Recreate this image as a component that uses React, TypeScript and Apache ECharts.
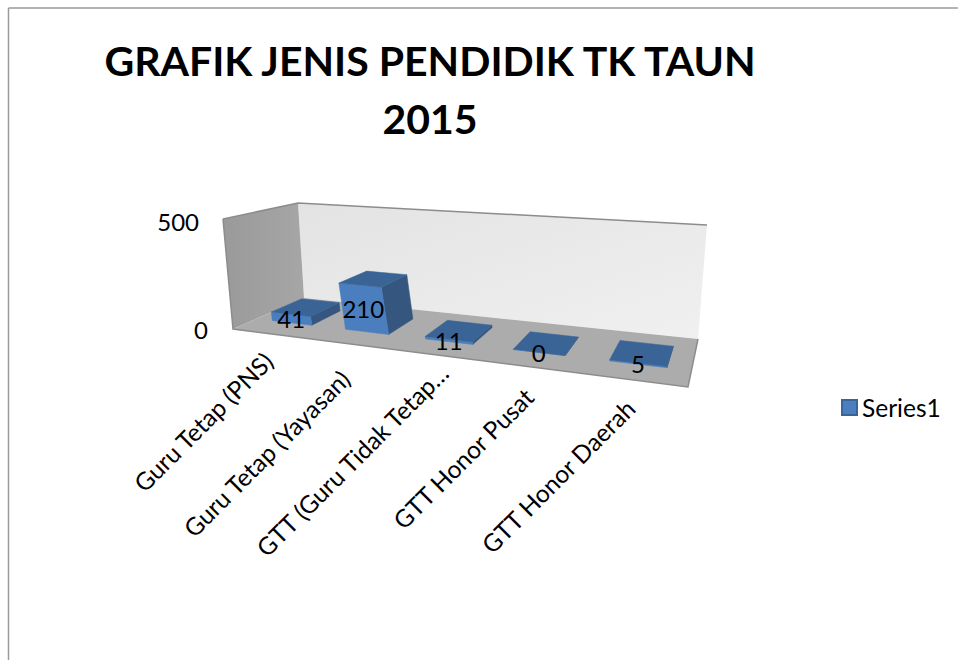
import React, { useEffect, useRef } from "react";
import * as echarts from "echarts";

const categories = ["Guru Tetap (PNS)", "Guru Tetap (Yayasan)", "GTT (Guru Tidak Tetap…", "GTT Honor Pusat", "GTT Honor Daerah"];
const seriesName = "Series1";
const values = [41, 210, 11, 0, 5];
const titleText = "GRAFIK JENIS PENDIDIK TK TAUN\n2015";
const yMax = 500;

type P = [number, number];
const FONT = "Lato";

// Corners of the 3D box as seen on the page: floor and top plane
const floorQuad: P[] = [[233, 329], [688, 387], [698, 339], [304, 298]];
const topQuad: P[] = [[223, 219], [699, 255], [707, 225], [298, 203]];
// Small per-label shift of the slanted axis labels
const labelNudge: P[] = [[-1, 23], [-2, 31], [11, 14], [2, 26], [-1, 24]];

function homography(q: P[]) {
  const [[x0, y0], [x1, y1], [x2, y2], [x3, y3]] = q;
  const sx = x0 - x1 + x2 - x3, sy = y0 - y1 + y2 - y3;
  const dx1 = x1 - x2, dx2 = x3 - x2, dy1 = y1 - y2, dy2 = y3 - y2;
  const den = dx1 * dy2 - dx2 * dy1;
  const g = (sx * dy2 - dx2 * sy) / den, h = (dx1 * sy - sx * dy1) / den;
  const a = x1 - x0 + g * x1, b = x3 - x0 + h * x3, d = y1 - y0 + g * y1, e = y3 - y0 + h * y3;
  return (u: number, v: number): P => {
    const w = g * u + h * v + 1;
    return [(a * u + b * v + x0) / w, (d * u + e * v + y0) / w];
  };
}
const floorAt = homography(floorQuad);
const topAt = homography(topQuad);
// u along the categories, d into the depth, t up the value axis (all 0..1)
function project(u: number, d: number, t: number): P {
  const f = floorAt(u, d), c = topAt(u, d);
  return [f[0] + (c[0] - f[0]) * t, f[1] + (c[1] - f[1]) * t];
}

const BAR_SHARE = 0.55;
const D0 = 0.3, D1 = 0.74;

function renderBar(params: any, api: any) {
  const cs = params.coordSys;
  const idx = api.value(0), val = api.value(1);
  const pt = api.coord([idx, val]);
  const base = api.coord([idx, 0]);
  const uc = (pt[0] - cs.x) / cs.width;
  const t = (base[1] - pt[1]) / cs.height;
  const half = (api.size([1, 0])[0] * BAR_SHARE) / 2 / cs.width;
  const ul = uc - half, ur = uc + half;
  const poly = (points: P[], fill: any) => ({
    type: "polygon", silent: true,
    shape: { points },
    style: { fill, stroke: fill, lineWidth: 0.5 },
  });
  const frontMid = project(uc, D0, t / 2);
  const lblFoot = project(uc, 0, 0);
  return {
    type: "group",
    children: [
      poly([project(ur, D0, 0), project(ur, D1, 0), project(ur, D1, t), project(ur, D0, t)], "#35577f"),
      poly([project(ul, D0, 0), project(ur, D0, 0), project(ur, D0, t), project(ul, D0, t)], "#4a7ebf"),
      poly([project(ul, D0, t), project(ur, D0, t), project(ur, D1, t), project(ul, D1, t)], "#3a6495"),
      {
        type: "text", silent: true, x: frontMid[0], y: frontMid[1],
        style: { text: String(val), align: "center", verticalAlign: "middle", fontFamily: FONT, fontSize: 24, fill: "#000" },
      },
      {
        type: "text", silent: true, x: lblFoot[0] + labelNudge[idx][0], y: lblFoot[1] + labelNudge[idx][1], rotation: Math.PI / 4,
        style: { text: categories[idx], align: "right", verticalAlign: "middle", fontFamily: FONT, fontSize: 24.5, fill: "#000" },
      },
    ],
  };
}

export default function App() {
  const ref = useRef<HTMLDivElement>(null);
  useEffect(() => {
    document.body.style.margin = "0";
    const chart = echarts.init(ref.current!, undefined, { renderer: "svg" });
    const wallEdge = { stroke: "#8c8c8c", lineWidth: 1.5 };
    chart.setOption({
      animation: false,
      backgroundColor: "#fff",
      title: {
        text: titleText, left: 425, top: 26, textAlign: "center",
        textStyle: { fontFamily: FONT, fontWeight: "bold", fontSize: 41, lineHeight: 58, color: "#000" },
      },
      legend: {
        data: [seriesName], left: 836, top: 390, itemWidth: 15, itemHeight: 15, itemGap: 9,
        icon: "rect", textStyle: { fontFamily: FONT, fontSize: 24.5, color: "#000" },
      },
      grid: { left: 218, top: 221, width: 500, height: 108, containLabel: false },
      xAxis: { type: "category", data: categories, show: false },
      yAxis: {
        type: "value", min: 0, max: yMax, interval: yMax,
        axisLine: { show: false }, axisTick: { show: false }, splitLine: { show: false },
        axisLabel: {
          fontFamily: FONT, fontSize: 24, color: "#000", margin: 10,
          formatter: (v: number) => (v === 0 ? "0" : `{top|${v}}`),
          rich: { top: { fontFamily: FONT, fontSize: 24, color: "#000", padding: [0, 9, 0, 0] } },
        },
      },
      graphic: [
        { type: "line", z: 0, shape: { x1: 8.5, y1: 8, x2: 958, y2: 8 }, style: { stroke: "#9a9a9a", lineWidth: 1.5 } },
        { type: "line", z: 0, shape: { x1: 8.5, y1: 8, x2: 8.5, y2: 660 }, style: { stroke: "#9a9a9a", lineWidth: 1.5 } },
        { type: "polygon", z: 0, shape: { points: [topQuad[3], topQuad[2], floorQuad[2], floorQuad[3]] },
          style: { fill: new echarts.graphic.LinearGradient(0, 0, 1, 1, [{ offset: 0, color: "#e3e3e3" }, { offset: 1, color: "#f0f0f0" }]) } },
        { type: "polygon", z: 0, shape: { points: [topQuad[0], topQuad[3], floorQuad[3], floorQuad[0]] },
          style: { fill: new echarts.graphic.LinearGradient(0, 0, 1, 0, [{ offset: 0, color: "#9a9a9a" }, { offset: 1, color: "#a6a6a6" }]) } },
        { type: "polygon", z: 0, shape: { points: floorQuad }, style: { fill: "#acacac" } },
        { type: "polyline", z: 1, shape: { points: [topQuad[0], topQuad[3], topQuad[2]] }, style: { ...wallEdge, fill: "none" } },
        { type: "polyline", z: 1, shape: { points: [topQuad[0], floorQuad[0], floorQuad[1], floorQuad[2]] }, style: { ...wallEdge, fill: "none" } },
      ],
      series: [{
        name: seriesName, type: "custom", coordinateSystem: "cartesian2d",
        renderItem: renderBar, clip: false,
        itemStyle: { color: "#4a7ebf", borderColor: "#3a6495", borderWidth: 1 },
        encode: { x: 0, y: 1 },
        data: values.map((v, i) => [i, v]),
      }],
    });
    return () => chart.dispose();
  }, []);
  return <div ref={ref} style={{ position: "fixed", left: 0, top: 0, width: 958, height: 660 }} />;
}
